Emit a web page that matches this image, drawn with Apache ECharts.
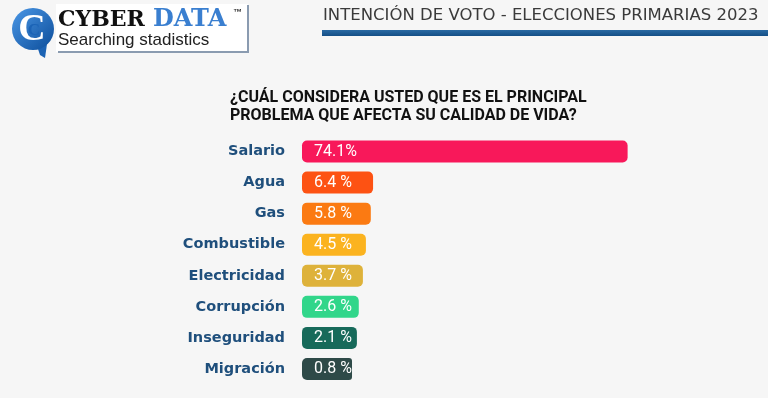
<!DOCTYPE html>
<html>
<head>
<meta charset="utf-8">
<script src="https://cdn.jsdelivr.net/npm/echarts@6/dist/echarts.min.js"></script>
<style>
html, body { margin: 0; padding: 0; background: #f6f6f6; }
#main { width: 768px; height: 398px; }
</style>
</head>
<body>
<div id="main"></div>
<script>
// datos
const categories = ['Salario', 'Agua', 'Gas', 'Combustible', 'Electricidad', 'Corrupción', 'Inseguridad', 'Migración'];
const percentages = [74.1, 6.4, 5.8, 4.5, 3.7, 2.6, 2.1, 0.8];
const barColors = ['#f8185a', '#fd5213', '#fb7a12', '#fbb31f', '#deb23a', '#31d68a', '#176a5a', '#2e4a48'];

const chart = echarts.init(document.getElementById('main'));

// tramo inicial de cada barra, donde va la etiqueta del valor
const leadIn = 12.5;

function pctText(i) {
  return i === 0 ? percentages[i] + '%' : percentages[i].toFixed(1) + ' %';
}

const option = {
  backgroundColor: '#f6f6f6',
  animation: false,
  grid: { left: 302, right: 90, top: 136, bottom: 13.5 },
  xAxis: { type: 'value', min: 0, max: 100, show: false },
  yAxis: {
    type: 'category',
    data: categories,
    inverse: true,
    axisLine: { show: false },
    axisTick: { show: false },
    axisLabel: {
      margin: 17,
      color: '#1f4f7c',
      fontFamily: 'DejaVu Sans',
      fontWeight: 'bold',
      fontSize: 14.5,
      padding: [3, 0, 0, 0]
    }
  },
  series: [
    {
      type: 'bar',
      stack: 'total',
      barWidth: 22,
      data: categories.map((c, i) => ({
        value: leadIn,
        itemStyle: { color: barColors[i], borderRadius: [5, 0, 0, 5] }
      })),
      label: {
        show: true,
        position: 'insideLeft',
        distance: 12,
        color: '#ffffff',
        fontFamily: 'Roboto',
        fontSize: 16,
        formatter: p => pctText(p.dataIndex)
      }
    },
    {
      type: 'bar',
      stack: 'total',
      barWidth: 22,
      data: percentages.map((v, i) => ({
        value: v,
        itemStyle: { color: barColors[i], borderRadius: [0, 5, 5, 0] }
      }))
    }
  ],
  graphic: [
    // logo
    { type: 'rect', shape: { x: 56, y: 4, width: 192, height: 48 }, style: { fill: '#ffffff' } },
    { type: 'polyline', shape: { points: [[58, 52], [248, 52], [248, 5]] }, style: { stroke: '#8a9bb0', lineWidth: 2, fill: null } },
    {
      type: 'polygon',
      shape: { points: [[37, 46], [47, 44], [45, 58], [40, 55]] },
      style: { fill: '#1c63b4' }
    },
    {
      type: 'circle',
      shape: { cx: 33, cy: 29, r: 21 },
      style: {
        fill: new echarts.graphic.LinearGradient(0, 0, 1, 1, [
          { offset: 0, color: '#4a97e6' },
          { offset: 1, color: '#0c4d9a' }
        ])
      }
    },
    {
      type: 'text', x: 32, y: 30,
      style: { text: 'C', font: 'bold 38px "Liberation Serif"', fill: '#ffffff', align: 'center', verticalAlign: 'middle' }
    },
    {
      type: 'text', x: 34, y: 31,
      style: { text: 'C', font: 'bold 17px "Liberation Serif"', fill: '#1b63b6', align: 'center', verticalAlign: 'middle' }
    },
    {
      type: 'text', x: 58, y: 9,
      style: { text: 'CYBER', font: 'bold 22px "DejaVu Serif"', fill: '#111111' }
    },
    {
      type: 'text', x: 153, y: 8,
      style: { text: 'DATA', font: 'bold 24px "DejaVu Serif"', fill: '#3a7fd0' }
    },
    {
      type: 'text', x: 233, y: 8,
      style: { text: '™', font: 'bold 9px "Liberation Sans"', fill: '#333333' }
    },
    {
      type: 'text', x: 58, y: 32,
      style: { text: 'Searching stadistics', font: '17px "Liberation Sans"', fill: '#222222' }
    },
    // encabezado
    {
      type: 'text', x: 323, y: 7,
      style: { text: 'INTENCIÓN DE VOTO - ELECCIONES PRIMARIAS 2023', font: '16.5px "DejaVu Sans"', fill: '#3a3a3a' }
    },
    {
      type: 'rect', shape: { x: 322, y: 30, width: 446, height: 6 },
      style: {
        fill: new echarts.graphic.LinearGradient(0, 0, 0, 1, [
          { offset: 0, color: '#2a6aa3' },
          { offset: 1, color: '#144f86' }
        ])
      }
    },
    // pregunta
    {
      type: 'text', x: 230, y: 89,
      style: {
        text: '¿CUÁL CONSIDERA USTED QUE ES EL PRINCIPAL\nPROBLEMA QUE AFECTA SU CALIDAD DE VIDA?',
        font: 'bold 16px Roboto',
        lineHeight: 18,
        fill: '#111111'
      }
    }
  ]
};

chart.setOption(option);
</script>
</body>
</html>
